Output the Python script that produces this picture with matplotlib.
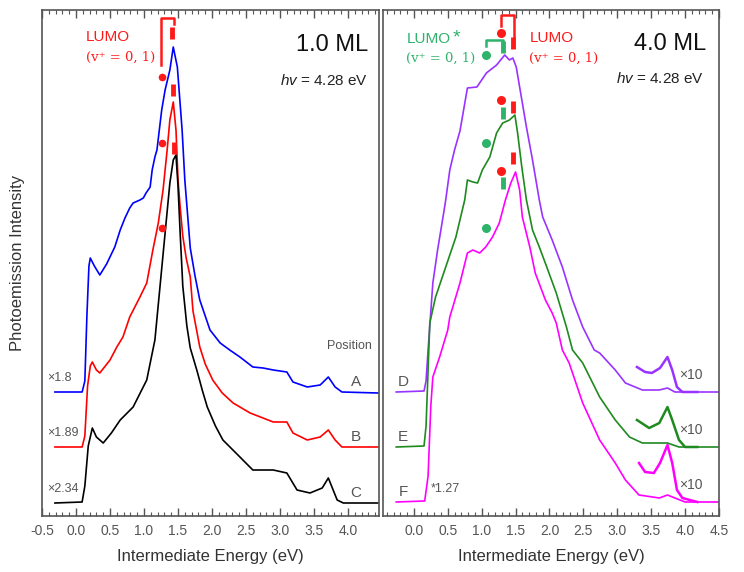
import matplotlib
matplotlib.use("Agg")
import matplotlib.pyplot as plt
from matplotlib.ticker import MultipleLocator, FormatStrFormatter

plt.rcParams['font.family'] = ['Liberation Sans', 'DejaVu Sans']
plt.rcParams['mathtext.fontset'] = 'custom'
plt.rcParams['mathtext.rm'] = 'Liberation Sans'
plt.rcParams['mathtext.it'] = 'Liberation Sans:italic'

# ---------------- data (energy in eV, intensity in arbitrary stacked units) -------------
# Left panel, 1.0 ML
A_E = [-0.31, 0.09, 0.13, 0.16, 0.19, 0.21, 0.27, 0.35, 0.45, 0.57, 0.65, 0.72, 0.79, 0.84,
       0.94, 0.99, 1.03, 1.09, 1.12, 1.16, 1.19, 1.26, 1.31, 1.38, 1.43, 1.49, 1.56, 1.60,
       1.68, 1.75, 1.82, 1.97, 2.12, 2.26, 2.41, 2.60, 2.75, 2.90, 3.10, 3.19, 3.40, 3.59,
       3.71, 3.81, 3.91, 4.44]
A_I = [124, 124, 135, 200, 250, 258, 250, 241, 252, 269, 286, 298, 308, 313,
       316, 318, 323, 329, 346, 359, 366, 406, 426, 446, 469, 449, 386, 336,
       268, 240, 216, 186, 173, 166, 159, 149, 148, 146, 144, 134, 129, 131,
       139, 129, 124, 123]

B_E = [-0.31, 0.09, 0.13, 0.17, 0.21, 0.24, 0.30, 0.35, 0.50, 0.60, 0.69, 0.79, 0.94, 1.04,
       1.13, 1.21, 1.28, 1.34, 1.38, 1.43, 1.47, 1.50, 1.53, 1.57, 1.62, 1.68, 1.72, 1.82,
       1.90, 2.01, 2.15, 2.31, 2.56, 2.90, 3.10, 3.19, 3.40, 3.59, 3.71, 3.81, 3.91, 4.44]
B_I = [69, 69, 80, 130, 150, 154, 146, 143, 156, 169, 179, 199, 219, 233,
       266, 293, 326, 366, 396, 414, 386, 336, 310, 280, 258, 239, 205, 169,
       152, 136, 123, 113, 103, 94, 94, 83, 76, 79, 86, 76, 69, 69]

C_E = [-0.31, 0.09, 0.13, 0.18, 0.24, 0.30, 0.40, 0.52, 0.65, 0.84, 1.04, 1.16, 1.24, 1.31,
       1.38, 1.43, 1.47, 1.50, 1.53, 1.57, 1.63, 1.68, 1.78, 1.86, 1.93, 2.05, 2.16, 2.41,
       2.60, 2.90, 3.10, 3.25, 3.44, 3.62, 3.71, 3.84, 3.93, 4.44]
C_I = [13, 14, 30, 70, 88, 79, 73, 83, 96, 109, 136, 176, 233, 283,
       333, 356, 361, 330, 285, 230, 190, 168, 145, 125, 109, 90, 76, 59,
       46, 46, 43, 26, 23, 28, 38, 16, 13, 13]

# Right panel, 4.0 ML
D_E = [-0.26, 0.15, 0.18, 0.21, 0.28, 0.35, 0.43, 0.47, 0.53, 0.60, 0.68, 0.79, 0.93, 1.07,
       1.22, 1.34, 1.41, 1.46, 1.51, 1.56, 1.66, 1.75, 1.85, 1.90, 2.04, 2.19, 2.34, 2.49,
       2.66, 2.74, 2.97, 3.12, 3.37, 3.62, 3.74, 3.85, 4.49]
D_I = [124, 125, 135, 166, 233, 266, 299, 316, 346, 366, 385, 428, 429, 443,
       451, 461, 456, 458, 449, 429, 389, 356, 316, 299, 276, 249, 216, 189,
       166, 163, 146, 133, 126, 126, 128, 124, 124]
D10_E = [3.29, 3.41, 3.51, 3.63, 3.74, 3.81, 3.88, 3.96, 4.18]
D10_I = [149, 144, 143, 148, 159, 146, 129, 124, 124]

E_E = [-0.26, 0.15, 0.18, 0.235, 0.32, 0.47, 0.62, 0.75, 0.79, 0.87, 0.94, 1.01, 1.12, 1.22,
       1.31, 1.41, 1.49, 1.53, 1.59, 1.66, 1.75, 1.85, 1.96, 2.10, 2.25, 2.34, 2.49, 2.74,
       2.97, 3.18, 3.37, 3.74, 3.91, 4.49]
E_I = [69, 70, 90, 193, 219, 249, 279, 316, 336, 334, 333, 346, 359, 383,
       393, 396, 401, 383, 350, 316, 286, 269, 249, 223, 189, 166, 153, 119,
       96, 79, 73, 73, 69, 69]
E10_E = [3.29, 3.47, 3.62, 3.74, 3.81, 3.91, 4.00, 4.18]
E10_I = [96, 88, 93, 109, 96, 76, 69, 69]

F_E = [-0.26, 0.16, 0.21, 0.25, 0.28, 0.38, 0.50, 0.53, 0.68, 0.79, 0.87, 0.97, 1.06, 1.16,
       1.26, 1.35, 1.43, 1.50, 1.56, 1.60, 1.71, 1.79, 1.94, 2.04, 2.10, 2.19, 2.29, 2.49,
       2.74, 2.97, 3.12, 3.32, 3.62, 3.74, 3.85, 4.00, 4.49]
F_I = [14, 15, 40, 110, 139, 159, 186, 199, 233, 263, 266, 263, 269, 279,
       293, 316, 333, 344, 326, 299, 269, 243, 216, 203, 193, 166, 153, 113,
       76, 53, 36, 21, 18, 21, 18, 14, 14]
F10_E = [3.32, 3.41, 3.54, 3.63, 3.74, 3.81, 3.88, 3.96, 4.18]
F10_I = [53, 44, 43, 53, 71, 53, 26, 18, 14]

# vibronic markers
L_dot_E, L_dot_I = 1.26, [439, 373, 288]
L_bar_E, L_bar_I = [1.41, 1.43, 1.44], [483, 426, 368]
R_gdot_E, R_gdot_I = 1.07, [461, 373, 288]
R_gbar_E, R_gbar_I = 1.31, [469, 403, 333]
R_rdot_E, R_rdot_I = 1.29, [483, 416, 345]
R_rbar_E, R_rbar_I = 1.46, [473, 409, 358]

left_labels = ['A', 'B', 'C']
left_scales = ['\u00d71.8', '\u00d71.89', '\u00d72.34']
right_labels = ['D', 'E', 'F']

# ---------------- figure -------------
W, H = 744, 572
fig = plt.figure(figsize=(W / 100, H / 100), dpi=100)
axL = fig.add_axes([42 / W, 1 - 516 / H, 337 / W, 506 / H])
axR = fig.add_axes([383 / W, 1 - 516 / H, 336 / W, 506 / H])

RED = '#ff1a1a'
GRN_T = '#2db36a'
GRAY = '#555555'
serif = ['DejaVu Serif']

for ax in (axL, axR):
    ax.set_ylim(0, 506)
    ax.set_yticks([])
    ax.xaxis.set_major_locator(MultipleLocator(0.5))
    ax.xaxis.set_minor_locator(MultipleLocator(0.1))
    ax.xaxis.set_major_formatter(FormatStrFormatter('%.1f'))
    ax.tick_params(axis='x', which='both', direction='in', top=True, bottom=True,
                   colors=GRAY, labelcolor=GRAY, labelsize=10, pad=6)
    ax.tick_params(axis='x', which='major', length=6, width=1)
    ax.tick_params(axis='x', which='minor', length=3, width=0.8)
    for s in ax.spines.values():
        s.set_color(GRAY)
        s.set_linewidth(1.2)

axL.set_xlim(-0.5, 4.455)
axR.set_xlim(-0.455, 4.5)

# left curves
axL.plot(A_E, A_I, color='#0000ff', lw=1.2)
axL.plot(B_E, B_I, color='#ff0000', lw=1.2)
axL.plot(C_E, C_I, color='#000000', lw=1.2)

# right curves
axR.plot(D_E, D_I, color='#9933ff', lw=1.2)
axR.plot(D10_E, D10_I, color='#9933ff', lw=1.8)
axR.plot(E_E, E_I, color='#1f8a1f', lw=1.2)
axR.plot(E10_E, E10_I, color='#1f8a1f', lw=1.8)
axR.plot(F_E, F_I, color='#ff00ff', lw=1.2)
axR.plot(F10_E, F10_I, color='#ff00ff', lw=1.8)

# markers left
axL.plot([L_dot_E] * 3, L_dot_I, 'o', color=RED, ms=5.5, mec='none')
axL.plot(L_bar_E, L_bar_I, ls='none', marker='|', color=RED, ms=8, mew=3.5)
axL.plot([1.25, 1.25, 1.44, 1.44], [451, 498, 498, 492], color=RED, lw=1.8)

# markers right
axR.plot([R_gdot_E] * 3, R_gdot_I, 'o', color=GRN_T, ms=6.5, mec='none')
axR.plot([R_gbar_E] * 3, R_gbar_I, ls='none', marker='|', color=GRN_T, ms=8, mew=3.5)
axR.plot([R_rdot_E] * 3, R_rdot_I, 'o', color=RED, ms=6.5, mec='none')
axR.plot([R_rbar_E] * 3, R_rbar_I, ls='none', marker='|', color=RED, ms=8, mew=3.5)
axR.plot([1.06, 1.06, 1.31, 1.31], [470, 476, 476, 472], color=GRN_T, lw=1.8)
axR.plot([1.29, 1.29, 1.47, 1.47], [490, 501, 501, 478], color=RED, lw=1.8)

# texts left
axL.text(0.15, 479, 'LUMO', color=RED, fontsize=11, va='center', ha='left')
axL.text(0.14, 459, '(v\u207a = 0, 1)', color=RED, fontsize=9.5, va='center', ha='left',
         family=serif)
axL.text(4.29, 471, '1.0 ML', fontsize=17, ha='right', va='center', color='#111111')
axL.text(4.29, 436, r'$\it{hv}$ = 4.28 eV', fontsize=11, ha='right', va='center', color='#222222')
axL.text(4.35, 170, 'Position', fontsize=9, ha='right', va='center', color=GRAY)
for lab, sc, yb in zip(left_labels, left_scales, [124, 69, 13]):
    axL.text(4.12, yb + 10, lab, fontsize=11, ha='center', va='center', color=GRAY)
    axL.text(-0.43, yb + 14, sc, fontsize=9, ha='left', va='center', color=GRAY)

# texts right
axR.text(-0.10, 477, 'LUMO', color=GRN_T, fontsize=11, va='center', ha='left')
axR.text(0.575, 478, '*', color=GRN_T, fontsize=14, va='center', ha='left')
axR.text(-0.11, 458, '(v\u207a = 0, 1)', color=GRN_T, fontsize=9.5, va='center', ha='left',
         family=serif)
axR.text(1.71, 478, 'LUMO', color=RED, fontsize=11, va='center', ha='left')
axR.text(1.70, 458, '(v\u207a = 0, 1)', color=RED, fontsize=9.5, va='center', ha='left',
         family=serif)
axR.text(4.31, 472, '4.0 ML', fontsize=17, ha='right', va='center', color='#111111')
axR.text(4.28, 438, r'$\it{hv}$ = 4.28 eV', fontsize=11, ha='right', va='center', color='#222222')
for lab, yb in zip(right_labels, [124, 69, 14]):
    axR.text(-0.16, yb + 10, lab, fontsize=11, ha='center', va='center', color=GRAY)
    axR.text(3.91, yb + 17, '\u00d710', fontsize=10, ha='left', va='center', color=GRAY)
axR.text(0.25, 27, '*1.27', fontsize=9, ha='left', va='center', color=GRAY)

# axis labels
fig.text(210 / W, 1 - 557 / H, 'Intermediate Energy (eV)', ha='center', va='center',
         fontsize=12, color='#333333')
fig.text(551 / W, 1 - 557 / H, 'Intermediate Energy (eV)', ha='center', va='center',
         fontsize=12, color='#333333')
fig.text(18 / W, 1 - 263 / H, 'Photoemission Intensity', ha='center', va='center',
         rotation=90, fontsize=12, color='#333333')

fig.savefig('out.png', dpi=100)
